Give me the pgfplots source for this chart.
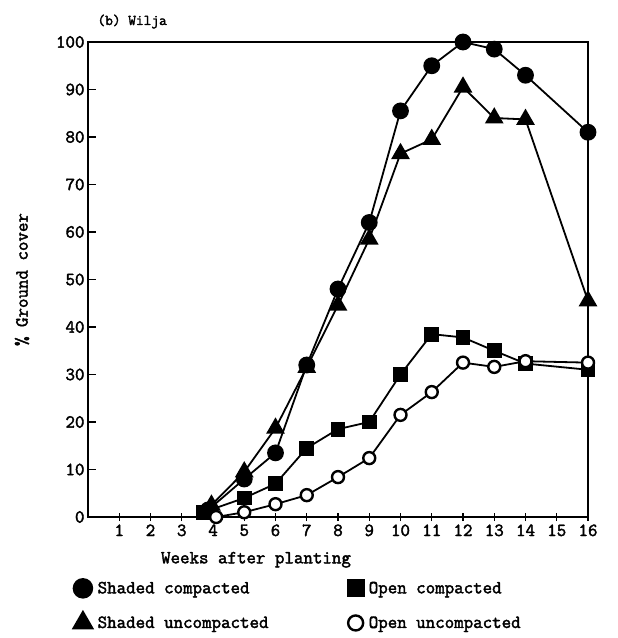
\documentclass[border=0pt]{standalone}
\usepackage{fontspec}
\usepackage{pgfplots}
\pgfplotsset{compat=1.18}

% Heavy typewriter face for all text
\newfontfamily\twfont{Latin Modern Mono}[FakeBold=2.2]

% Ground cover of Wilja potatoes, by treatment
\pgfplotstableread{
week cover
3.85 1.5
5    8
6    13.5
7    32
8    48
9    62
10   85.5
11   95
12   100
13   98.5
14   93
16   81
}\shadedcomp
\pgfplotstableread{
week cover
3.7  1
5    4
6    7
7    14.5
8    18.5
9    20
10   30
11   38.5
12   37.8
13   35
14   32.3
16   31
}\opencomp
\pgfplotstableread{
week cover
3.95 2.5
5    9.5
6    18.7
7    31.5
8    44.6
9    58.5
10   76.5
11   79.5
12   90.5
13   84
14   83.7
16   45.5
}\shadeduncomp
\pgfplotstableread{
week cover
4.1  0
5    1
6    2.7
7    4.6
8    8.4
9    12.4
10   21.5
11   26.3
12   32.5
13   31.6
14   32.8
16   32.5
}\openuncomp

\newcommand{\tw}{\fontsize{18.5}{22}\selectfont\twfont}

\begin{document}
\begin{tikzpicture}
\path[use as bounding box] (-88bp,-121bp) rectangle (530bp,517bp);
\begin{axis}[
  at={(0,0)}, anchor=south west,
  width=500bp, height=475bp, scale only axis,
  xmin=0, xmax=16, ymin=0, ymax=100,
  xtick={1,...,16}, ytick={0,10,...,100},
  clip=false,
  axis line style={line width=1.8bp},
  major tick length=8bp,
  tick style={line width=1.4bp, black},
  xtick align=center, ytick align=inside,
  xtick pos=bottom, ytick pos=left,
  font=\tw,
  /pgf/number format/assume math mode=true,
  ticklabel style={font=\tw},
  ylabel={\% Ground cover},
  ylabel style={at={(axis description cs:-0.132,0.5)}, anchor=center, font=\tw},
  xlabel={Weeks after planting},
  xlabel style={at={(axis description cs:0.336,-0.09)}, anchor=center, font=\tw},
  legend columns=2,
  legend cell align=left,
  legend style={at={(axis description cs:-0.03,-0.13)}, anchor=north west,
    draw=none, fill=none, font=\tw, row sep=14bp, inner sep=0pt,
    /tikz/every odd column/.append style={column sep=3bp},
    /tikz/every even column/.append style={column sep=77bp}},
  legend image code/.code={%
    \draw[#1, every mark/.append style={scale=1.25}]
      plot[only marks] coordinates {(0.3cm,0cm)};},
  every axis plot/.append style={line width=1.8bp, black},
]
\addplot[mark=*, mark size=7.5bp, mark options={solid, fill=black}]
  table[x=week, y=cover] {\shadedcomp};
\addlegendentry{Shaded compacted}
\addplot[mark=square*, mark size=6.5bp, mark options={solid, fill=black}]
  table[x=week, y=cover] {\opencomp};
\addlegendentry{Open compacted}
\addplot[mark=triangle*, mark size=9bp, mark options={solid, fill=black}]
  table[x=week, y=cover] {\shadeduncomp};
\addlegendentry{Shaded uncompacted}
\addplot[mark=*, mark size=6bp, mark options={solid, fill=white, line width=2.4bp}]
  table[x=week, y=cover] {\openuncomp};
\addlegendentry{Open uncompacted}

\node[anchor=base west, font=\fontsize{15}{18}\selectfont\twfont]
  at (axis description cs:0.012,1) [yshift=17bp] {(b) Wilja};
\end{axis}
\end{tikzpicture}
\end{document}
